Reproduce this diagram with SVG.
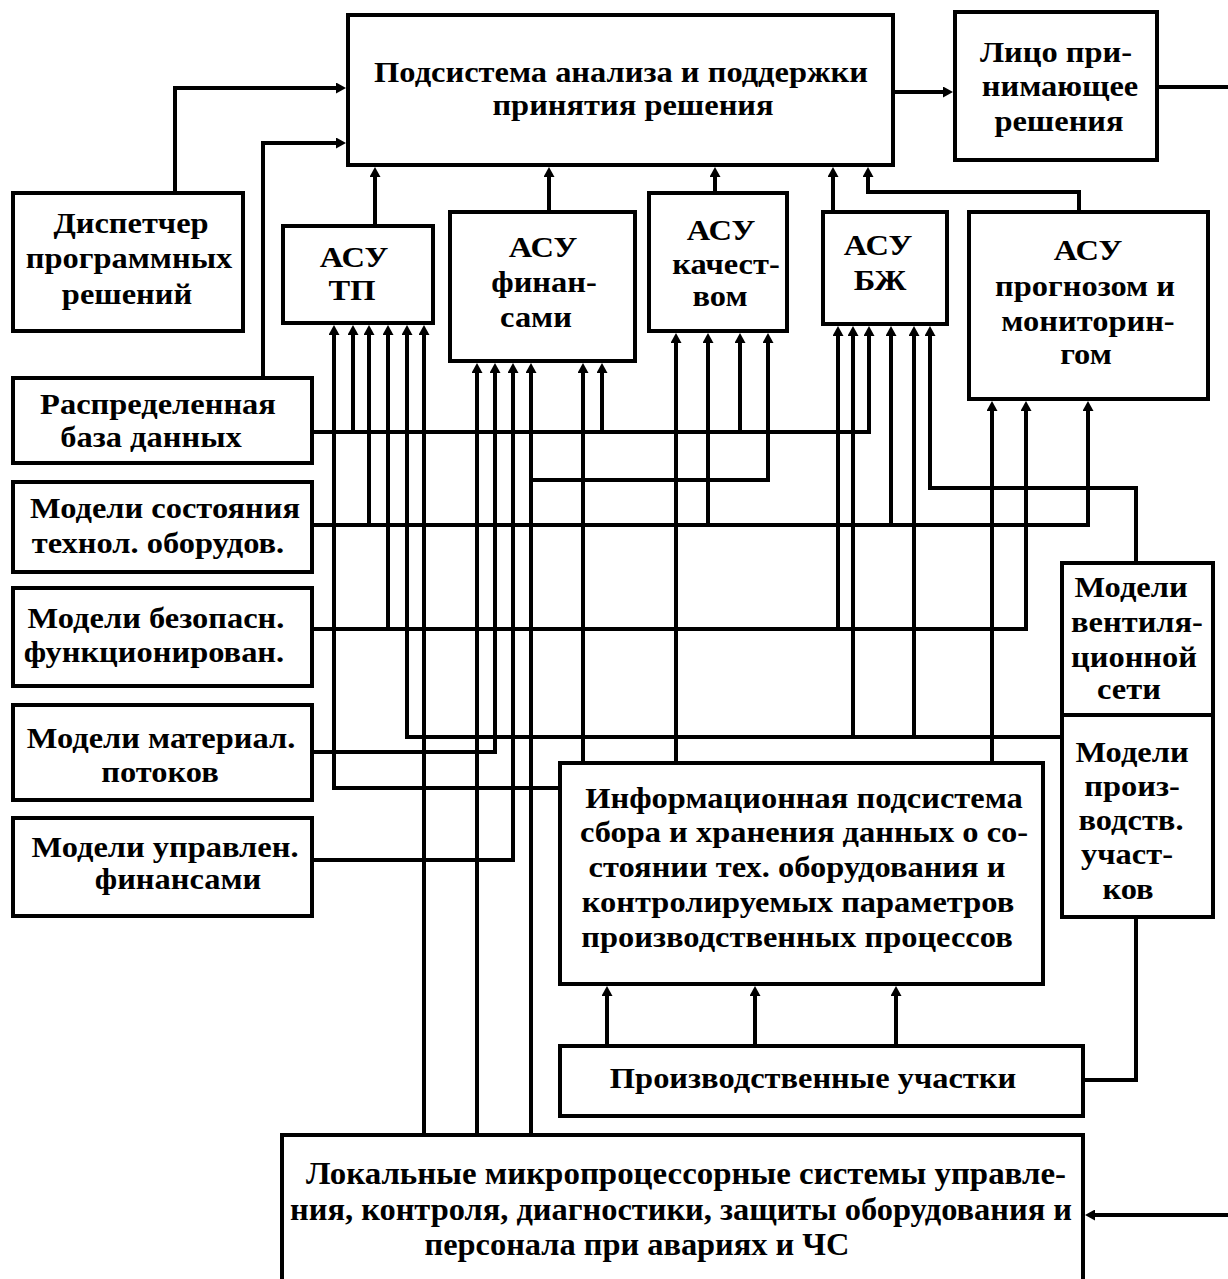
<svg xmlns="http://www.w3.org/2000/svg" width="1228" height="1279" viewBox="0 0 1228 1279">
<style>
.box{fill:#fff;stroke:#000;stroke-width:4}
.c{fill:none;stroke:#000;stroke-width:4;stroke-linejoin:miter}
.a{marker-end:url(#ah)}
text{font-family:"Liberation Serif","Times New Roman",serif;font-weight:bold;font-size:29px;fill:#000;text-anchor:middle}
.loc{font-size:32px}
</style>
<defs>
<marker id="ah" markerUnits="userSpaceOnUse" viewBox="0 -5.5 10 11" refX="4" refY="0" markerWidth="10" markerHeight="11" orient="auto">
<path d="M0,-5.5 L10,0 L0,5.5 Z" fill="#000"/>
</marker>
</defs>
<rect width="1228" height="1279" fill="#fff"/>

<g id="connectors">
<!-- top -->
<path class="c a" d="M175,193 V88 H340"/>
<path class="c a" d="M263,378 V143 H340"/>
<path class="c a" d="M375,226 V173"/>
<path class="c a" d="M549,212 V173"/>
<path class="c a" d="M715,193 V173"/>
<path class="c a" d="M833,212 V173"/>
<path class="c a" d="M1079,212 V192 H868 V173"/>
<path class="c a" d="M893,92 H947"/>
<path class="c" d="M1157,87 H1228"/>
<!-- Распределенная база данных -->
<path class="c a" d="M312,432 H869 V332"/>
<path class="c a" d="M353,432 V331"/>
<path class="c a" d="M602,432 V369"/>
<path class="c a" d="M740,432 V339"/>
<!-- Модели состояния -->
<path class="c a" d="M312,525 H1088 V407"/>
<path class="c a" d="M369,525 V331"/>
<path class="c a" d="M708,525 V339"/>
<path class="c a" d="M891,525 V332"/>
<!-- Модели безопасн. -->
<path class="c a" d="M312,629 H1026 V407"/>
<path class="c a" d="M388,629 V331"/>
<path class="c a" d="M838,629 V332"/>
<!-- Модели материал. -->
<path class="c a" d="M312,752 H495 V369"/>
<!-- Модели управлен. -->
<path class="c a" d="M312,860 H513 V369"/>
<!-- Модели производств. -->
<path class="c a" d="M1062,737 H407 V331"/>
<path class="c a" d="M853,737 V332"/>
<path class="c a" d="M914,737 V332"/>
<path class="c" d="M1136,917 V1080 H1083"/>
<!-- Модели вентиляционной -->
<path class="c a" d="M1136,563 V488 H930 V332"/>
<!-- Информационная -->
<path class="c a" d="M560,788 H334 V331"/>
<path class="c a" d="M583,763 V369"/>
<path class="c a" d="M676,763 V339"/>
<path class="c a" d="M992,763 V407"/>
<!-- Локальные -->
<path class="c a" d="M424,1135 V331"/>
<path class="c a" d="M477,1135 V369"/>
<path class="c a" d="M531,1135 V369"/>
<path class="c a" d="M531,480 H768 V339"/>
<!-- Производственные участки -->
<path class="c a" d="M607,1046 V992"/>
<path class="c a" d="M755,1046 V992"/>
<path class="c a" d="M896,1046 V992"/>
<path class="c a" d="M1228,1215 H1091"/>
</g>

<g id="n-main">
<rect class="box" x="348" y="15" width="545" height="150"/>
<text transform="translate(621 82) scale(1.12 1)">Подсистема анализа и поддержки</text>
<text transform="translate(633 115) scale(1.12 1)">принятия решения</text>
</g>
<g id="n-lpr">
<rect class="box" x="955" y="12" width="202" height="148"/>
<text transform="translate(1056 62) scale(1.12 1)">Лицо при-</text>
<text transform="translate(1060 96) scale(1.12 1)">нимающее</text>
<text transform="translate(1059 131) scale(1.12 1)">решения</text>
</g>
<g id="n-disp">
<rect class="box" x="13" y="193" width="230" height="138"/>
<text transform="translate(131 233) scale(1.12 1)">Диспетчер</text>
<text transform="translate(129 268) scale(1.12 1)">программных</text>
<text transform="translate(127 304) scale(1.12 1)">решений</text>
</g>
<g id="n-asutp">
<rect class="box" x="283" y="226" width="150" height="97"/>
<text transform="translate(354 267) scale(1.12 1)">АСУ</text>
<text transform="translate(352 300) scale(1.12 1)">ТП</text>
</g>
<g id="n-asufin">
<rect class="box" x="450" y="212" width="185" height="149"/>
<text transform="translate(543 257) scale(1.12 1)">АСУ</text>
<text transform="translate(544 292) scale(1.12 1)">финан-</text>
<text transform="translate(536 327) scale(1.12 1)">сами</text>
</g>
<g id="n-asukach">
<rect class="box" x="649" y="193" width="138" height="138"/>
<text transform="translate(721 240) scale(1.12 1)">АСУ</text>
<text transform="translate(726 274) scale(1.12 1)">качест-</text>
<text transform="translate(720 306) scale(1.12 1)">вом</text>
</g>
<g id="n-asubzh">
<rect class="box" x="823" y="212" width="124" height="112"/>
<text transform="translate(878 255) scale(1.12 1)">АСУ</text>
<text transform="translate(880 290) scale(1.12 1)">БЖ</text>
</g>
<g id="n-asuprog">
<rect class="box" x="969" y="212" width="239" height="187"/>
<text transform="translate(1088 260) scale(1.12 1)">АСУ</text>
<text transform="translate(1085 296) scale(1.12 1)">прогнозом и</text>
<text transform="translate(1088 331) scale(1.12 1)">мониторин-</text>
<text transform="translate(1086 364) scale(1.12 1)">гом</text>
</g>
<g id="n-rdb">
<rect class="box" x="13" y="378" width="299" height="85"/>
<text transform="translate(158 414) scale(1.12 1)">Распределенная</text>
<text transform="translate(151 447) scale(1.12 1)">база данных</text>
</g>
<g id="n-ms">
<rect class="box" x="13" y="482" width="299" height="90"/>
<text transform="translate(165 518) scale(1.12 1)">Модели состояния</text>
<text transform="translate(158 553) scale(1.12 1)">технол. оборудов.</text>
</g>
<g id="n-mb">
<rect class="box" x="13" y="588" width="299" height="98"/>
<text transform="translate(156 628) scale(1.12 1)">Модели безопасн.</text>
<text transform="translate(154 662) scale(1.12 1)">функционирован.</text>
</g>
<g id="n-mm">
<rect class="box" x="13" y="705" width="299" height="95"/>
<text transform="translate(161 748) scale(1.12 1)">Модели материал.</text>
<text transform="translate(160 782) scale(1.12 1)">потоков</text>
</g>
<g id="n-mf">
<rect class="box" x="13" y="818" width="299" height="98"/>
<text transform="translate(165 857) scale(1.12 1)">Модели управлен.</text>
<text transform="translate(178 889) scale(1.12 1)">финансами</text>
</g>
<g id="n-mv">
<rect class="box" x="1062" y="563" width="151" height="152"/>
<text transform="translate(1131 597) scale(1.12 1)">Модели</text>
<text transform="translate(1137 632) scale(1.12 1)">вентиля-</text>
<text transform="translate(1134 667) scale(1.12 1)">ционной</text>
<text transform="translate(1129 699) scale(1.12 1)">сети</text>
</g>
<g id="n-mp">
<rect class="box" x="1062" y="715" width="151" height="202"/>
<text transform="translate(1132 762) scale(1.12 1)">Модели</text>
<text transform="translate(1132 796) scale(1.12 1)">произ-</text>
<text transform="translate(1131 830) scale(1.12 1)">водств.</text>
<text transform="translate(1127 864) scale(1.12 1)">участ-</text>
<text transform="translate(1128 899) scale(1.12 1)">ков</text>
</g>
<g id="n-info">
<rect class="box" x="560" y="763" width="483" height="221"/>
<text transform="translate(804 808) scale(1.12 1)">Информационная  подсистема</text>
<text transform="translate(804 842) scale(1.12 1)">сбора и хранения данных о со-</text>
<text transform="translate(797 877) scale(1.12 1)">стоянии тех. оборудования и</text>
<text transform="translate(798 912) scale(1.12 1)">контролируемых параметров</text>
<text transform="translate(797 947) scale(1.12 1)">производственных процессов</text>
</g>
<g id="n-prod">
<rect class="box" x="560" y="1046" width="523" height="70"/>
<text transform="translate(813 1088) scale(1.12 1)">Производственные участки</text>
</g>
<g id="n-local">
<rect class="box" x="282" y="1135" width="801" height="160"/>
<text class="loc" x="686" y="1184" textLength="760" lengthAdjust="spacingAndGlyphs">Локальные микропроцессорные системы управле-</text>
<text class="loc" x="681" y="1220" textLength="782" lengthAdjust="spacingAndGlyphs">ния, контроля, диагностики, защиты оборудования и</text>
<text class="loc" x="637" y="1255" textLength="425" lengthAdjust="spacingAndGlyphs">персонала при авариях и ЧС</text>
</g>
</svg>
